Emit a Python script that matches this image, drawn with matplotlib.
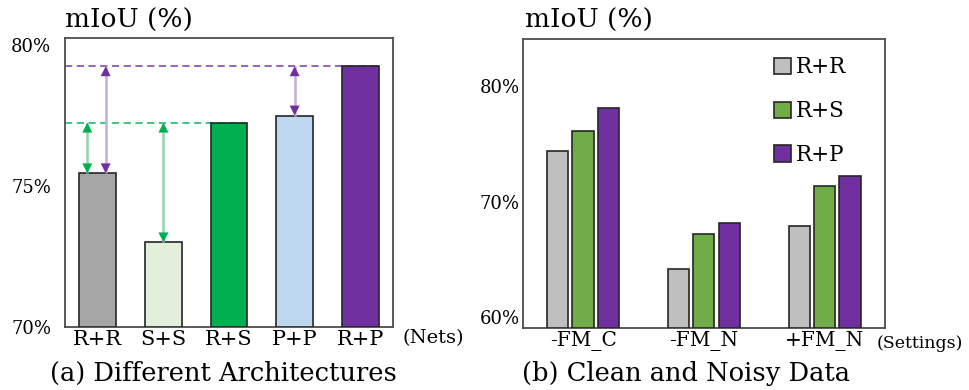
import matplotlib
matplotlib.use('Agg')
import matplotlib.pyplot as plt
from matplotlib.patches import Patch
import numpy as np

plt.rcParams['font.family'] = ['DejaVu Serif']

# ---- data: (a) different architectures ----
nets = ['R+R', 'S+S', 'R+S', 'P+P', 'R+P']
nets_miou = [75.45, 73.0, 77.25, 77.5, 79.25]
nets_colors = ['#a6a6a6', '#e2efda', '#00b050', '#bdd7ee', '#7030a0']

# ---- data: (b) clean and noisy data ----
settings = ['-FM_C', '-FM_N', '+FM_N']
series_names = ['R+R', 'R+S', 'R+P']
miou_rr = [74.4, 64.2, 67.9]
miou_rs = [76.1, 67.2, 71.3]
miou_rp = [78.1, 68.1, 72.2]
series_colors = ['#bfbfbf', '#70ad47', '#7030a0']

EDGE = '#262626'
SPINE = '#4d4d4d'
GREEN = '#00b050'
PURPLE = '#7030a0'

fig = plt.figure(figsize=(9.69, 3.9), dpi=100)
ax1 = fig.add_axes([0.0671, 0.1615, 0.3385, 0.741])
ax2 = fig.add_axes([0.5394, 0.159, 0.3739, 0.741])

# ============================================================================
# (a) Different Architectures
# ============================================================================
x1 = np.arange(len(nets))
ax1.bar(x1, np.array(nets_miou) - 70, bottom=70, width=0.56,
        color=nets_colors, edgecolor=EDGE, linewidth=1.2, zorder=3)
ax1.set_xlim(-0.5, 4.5)
ax1.set_ylim(70, 80.25)
ax1.set_yticks([70, 75, 80])
ax1.set_yticklabels(['70%', '75%', '80%'])
ax1.set_xticks(x1)
ax1.set_xticklabels(nets)

# dashed reference lines
ax1.plot([-0.5, 4.28], [nets_miou[4]] * 2, ls=(0, (4, 2.5)), color=PURPLE,
         lw=1.3, alpha=0.8, zorder=2)
ax1.plot([-0.5, 2.28], [nets_miou[2]] * 2, ls=(0, (4, 2.5)), color=GREEN,
         lw=1.3, alpha=0.8, zorder=2)


def double_arrow(ax, x, y0, y1, head, shaft):
    ax.plot([x, x], [y0, y1], color=shaft, lw=1.8, zorder=4,
            solid_capstyle='butt')
    mid = (y0 + y1) / 2
    for yy in (y0, y1):
        ax.annotate('', xy=(x, yy), xytext=(x, mid),
                    arrowprops=dict(arrowstyle='-|>', color=head, lw=0,
                                    mutation_scale=18, shrinkA=0, shrinkB=0),
                    zorder=5)


double_arrow(ax1, -0.16, nets_miou[0], nets_miou[2], GREEN, '#8fd4b0')
double_arrow(ax1, 0.12, nets_miou[0], nets_miou[4], PURPLE, '#c3aed6')
double_arrow(ax1, 1.0, nets_miou[1], nets_miou[2], GREEN, '#8fd4b0')
double_arrow(ax1, 3.0, nets_miou[3], nets_miou[4], PURPLE, '#c3aed6')

# ============================================================================
# (b) Clean and Noisy Data
# ============================================================================
x2 = np.arange(len(settings))
bw = 0.175
step = 0.21
for i, (vals, name, col) in enumerate(zip([miou_rr, miou_rs, miou_rp],
                                           series_names, series_colors)):
    ax2.bar(x2 + (i - 1) * step, np.array(vals) - 59.05, bottom=59.05,
            width=bw, color=col, edgecolor=EDGE, linewidth=1.2, zorder=3,
            label=name)
ax2.set_xlim(-0.5, 2.5)
ax2.set_ylim(59.05, 84.07)
ax2.set_yticks([60, 70, 80])
ax2.set_yticklabels(['60%', '70%', '80%'])
ax2.set_xticks(x2)
ax2.set_xticklabels(settings)

handles = [Patch(facecolor=c, edgecolor=EDGE, linewidth=1.2)
           for c in series_colors]
ax2.legend(handles, series_names, loc='upper left',
           bbox_to_anchor=(0.67, 0.97), frameon=False, fontsize=15.5,
           handlelength=0.8, handleheight=0.8, handletextpad=0.2,
           labelspacing=1.02, borderaxespad=0)

# common styling
for ax, ypad in ((ax1, 10), (ax2, 2)):
    for s in ax.spines.values():
        s.set_color(SPINE)
        s.set_linewidth(1.3)
    ax.tick_params(axis='both', length=0)
    ax.tick_params(axis='y', labelsize=13, pad=ypad)
    ax.tick_params(axis='x', labelsize=15, pad=2)
ax2.tick_params(axis='x', labelsize=14.5)

# titles and captions
fig.text(65 / 969, 1 - 20 / 390, 'mIoU (%)', fontsize=19, va='center',
         ha='left')
fig.text(525 / 969, 1 - 20 / 390, 'mIoU (%)', fontsize=19, va='center',
         ha='left')
fig.text(402 / 969, 1 - 338 / 390, '(Nets)', fontsize=14, va='center',
         ha='left')
fig.text(877 / 969, 1 - 343 / 390, '(Settings)', fontsize=12.5, va='center',
         ha='left')
fig.text(223 / 969, 1 - 373 / 390, '(a) Different Architectures',
         fontsize=18.5, va='center', ha='center')
fig.text(686 / 969, 1 - 373 / 390, '(b) Clean and Noisy Data',
         fontsize=18.5, va='center', ha='center')

plt.savefig('out.png', dpi=100, facecolor='white')
plt.close()
